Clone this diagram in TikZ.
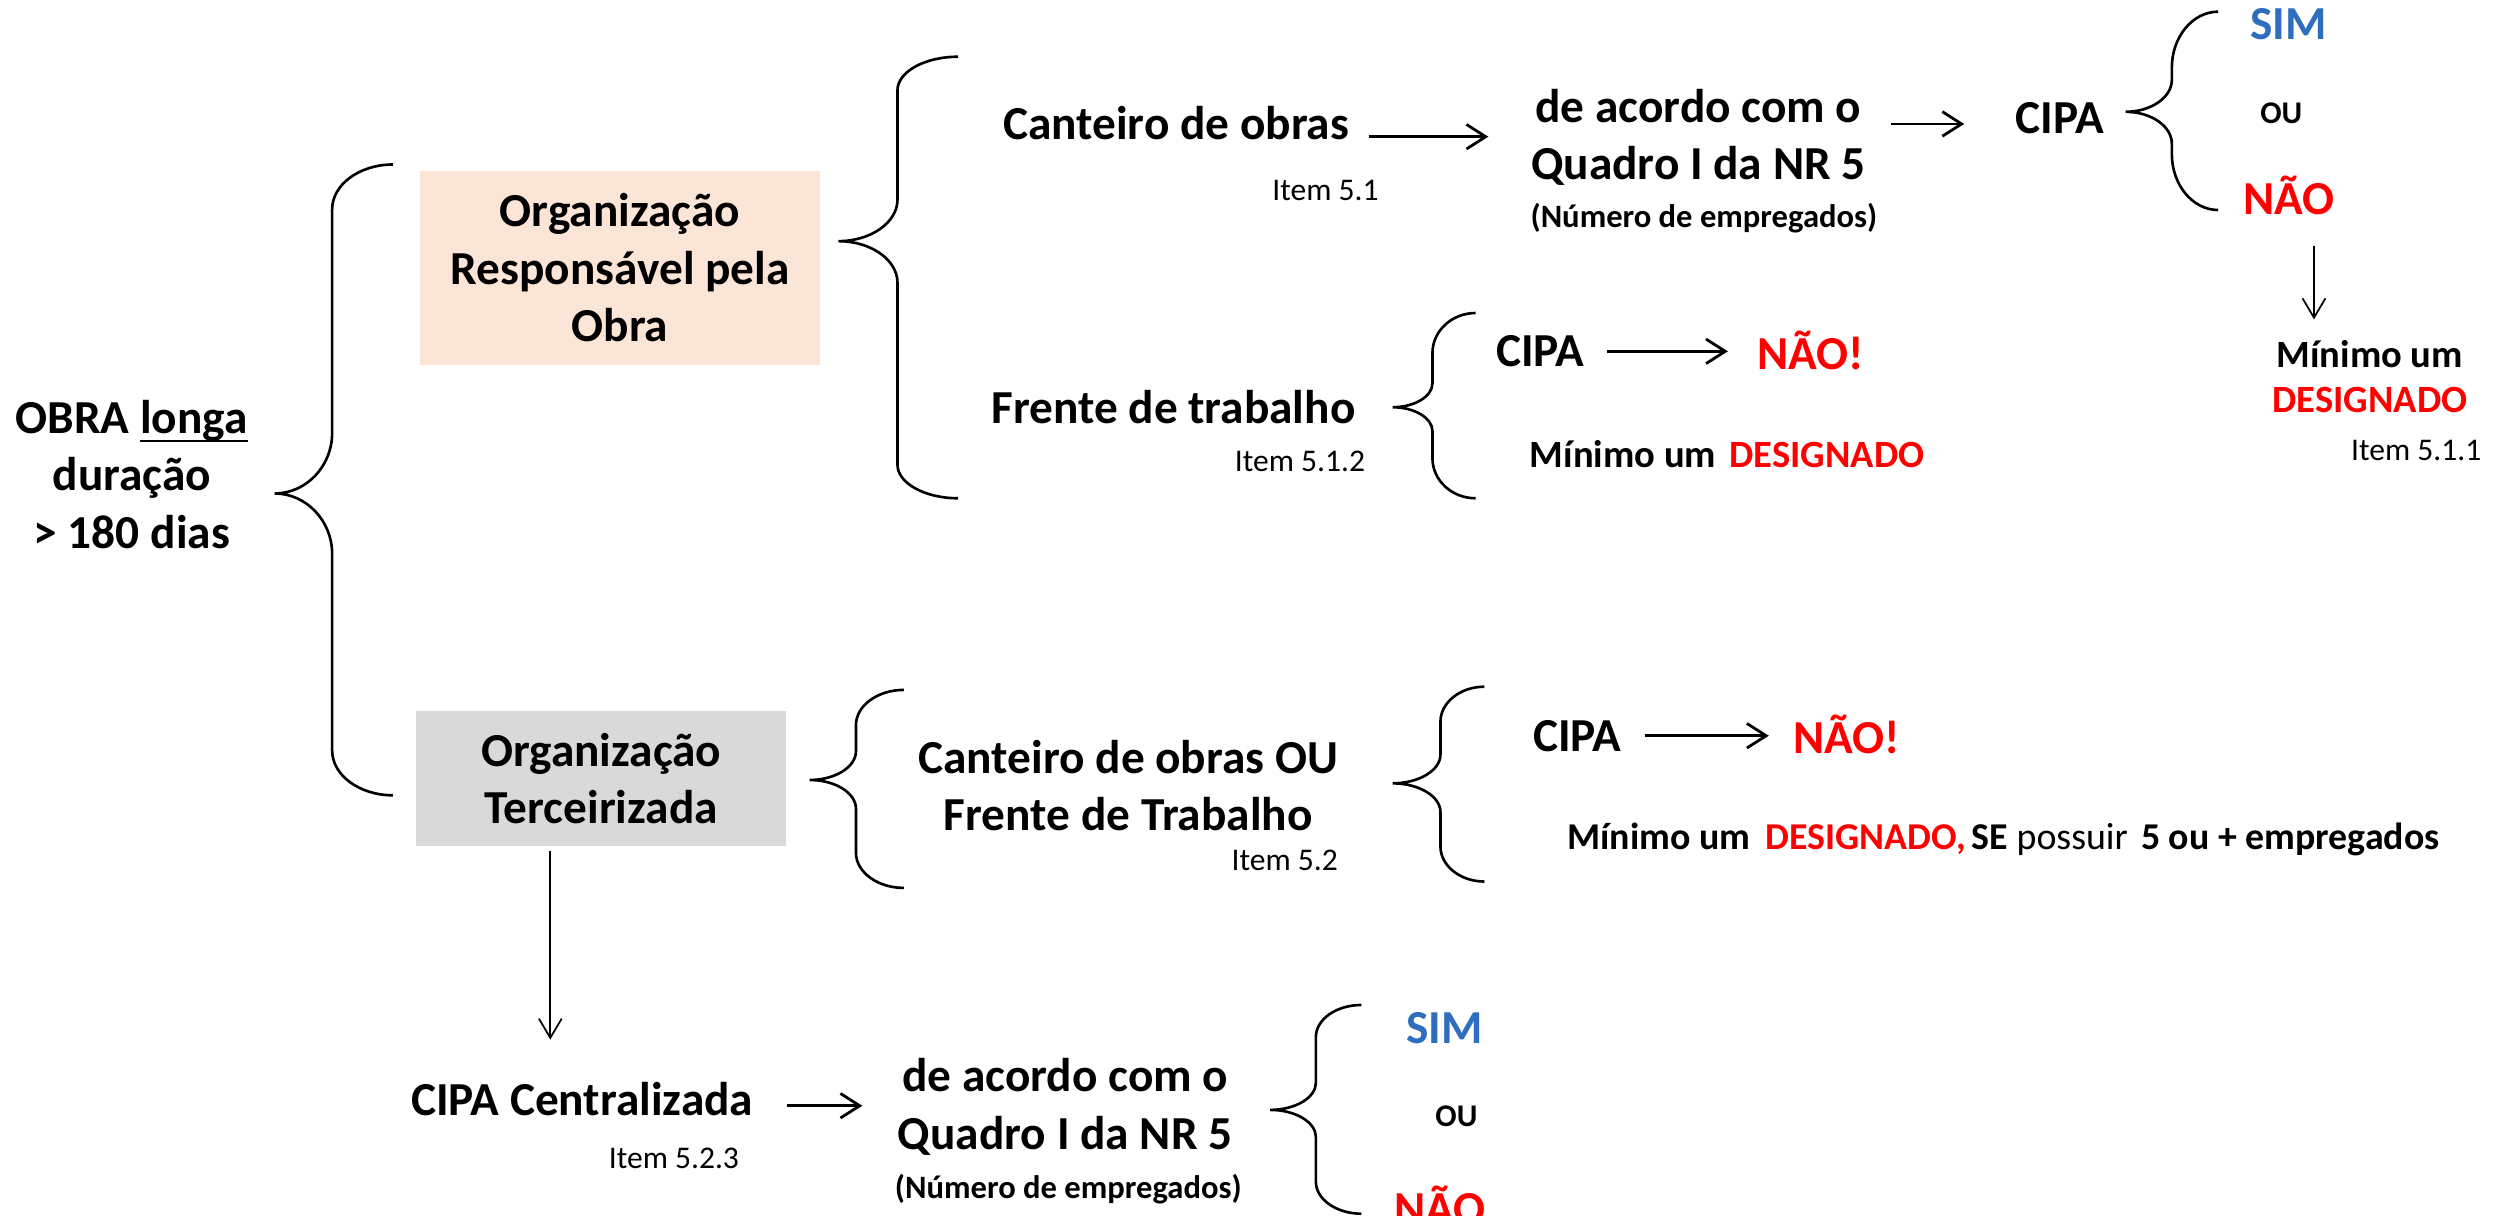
\documentclass[tikz,border=0pt]{standalone}
\usepackage{fontspec}
\setmainfont{Carlito}
\usetikzlibrary{arrows.meta}
\definecolor{peach}{HTML}{FBE5D6}
\definecolor{boxgray}{HTML}{D9D9D9}
\definecolor{simblue}{RGB}{47,110,190}
\definecolor{naored}{HTML}{FF0000}
\newcommand{\ulonga}[1]{\setbox0\hbox{#1}\rlap{\rule[-2.6pt]{\wd0}{0.8pt}}\box0}
\newcommand{\bracepath}[8]{%
 \draw[bracestyle] (#1,#4) .. controls ({#1-0.55*(#1-#2)},#4) and (#2,{#4+0.45*#7}) .. (#2,{#4+#7})
 -- (#2,{#5-#8}) .. controls (#2,{#5-0.45*#8}) and ({#3+0.55*(#2-#3)},#5) .. (#3,#5)
 .. controls ({#3+0.55*(#2-#3)},#5) and (#2,{#5+0.45*#8}) .. (#2,{#5+#8})
 -- (#2,{#6-#7}) .. controls (#2,{#6-0.45*#7}) and ({#1-0.55*(#1-#2)},#6) .. (#1,#6);}
\begin{document}
\begin{tikzpicture}[x=0.016cm,y=-0.016cm,
 every node/.style={inner sep=0pt, outer sep=0pt},
 mainf/.style={font=\fontsize{13.5}{16.4}\selectfont\bfseries, align=center},
 itemf/.style={font=\fontsize{9}{11}\selectfont, anchor=base},
 smallf/.style={font=\fontsize{9.3}{11}\selectfont\bfseries, anchor=base},
 midf/.style={font=\fontsize{11}{12.8}\selectfont\bfseries},
 oubf/.style={font=\fontsize{9}{11}\selectfont\bfseries, anchor=base},
 single/.style={mainf, anchor=base},
 bracestyle/.style={line width=0.75pt},
 harr/.style={line width=0.8pt, -{Straight Barb[length=5.5pt,width=7pt]}},
 varr/.style={line width=0.5pt, -{Straight Barb[length=5.5pt,width=6.5pt]}},
]
\useasboundingbox (0,0) rectangle (1568,761);

\node[mainf] (obra) at (82.5,297) {OBRA \ulonga{longa}\\duração\\> 180 dias};
\node[mainf, fill=peach, minimum width=4.01cm, minimum height=1.946cm] (org1) at (388.3,167.8) {Organização\\Responsável pela\\Obra};
\node[mainf, fill=boxgray, minimum width=3.71cm, minimum height=1.357cm] (org2) at (376.5,487.6) {Organização\\Terceirizada};

\node[single] (cano) at (736.5,87.5) {Canteiro de obras};
\node[itemf] (i51) at (830,125.4) {Item 5.1};
\node[mainf] (q1) at (1063.5,86) {de acordo com o\\Quadro I da NR 5};
\node[smallf] (q1n) at (1067,142.5) {(Número de empregados)};
\node[single] (cipa1) at (1290,83.5) {CIPA};
\node[single, text=simblue] (sim1) at (1433,25) {SIM};
\node[oubf] (ou1) at (1428.5,77.5) {OU};
\node[single, text=naored] (nao1) at (1433.3,134.5) {NÃO};
\node[midf, align=center] (min1) at (1484,236) {Mínimo um\\\textcolor{naored}{DESIGNADO}};
\node[itemf] (i511) at (1513,288.4) {Item 5.1.1};

\node[single] (frente) at (734.8,265.1) {Frente de trabalho};
\node[itemf] (i512) at (814,295.4) {Item 5.1.2};
\node[single] (cipa2) at (964.5,229.5) {CIPA};
\node[single, text=naored] (nao2) at (1134,231.5) {NÃO!};
\node[midf, anchor=base west] (min2) at (958,292.8) {Mínimo um\hspace{0.35em}\textcolor{naored}{DESIGNADO}};

\node[mainf] (cou) at (706.5,492) {Canteiro de obras OU\\Frente de Trabalho};
\node[itemf] (i52) at (804.5,545) {Item 5.2};
\node[single] (cipa3) at (987.7,470.8) {CIPA};
\node[single, text=naored] (nao3) at (1156.4,471.8) {NÃO!};
\node[midf, anchor=base west, font=\fontsize{10.8}{12.8}\selectfont\bfseries] (min3) at (981.6,531.8) {Mínimo um\hspace{0.4em}\textcolor{naored}{DESIGNADO,}\hspace{0.15em}SE {\mdseries possuir}\hspace{0.35em}5 ou + empregados};

\node[single] (cc) at (364.5,698.3) {CIPA Centralizada};
\node[itemf] (i523) at (422,731.7) {Item 5.2.3};
\node[mainf] (q2) at (667,693) {de acordo com o\\Quadro I da NR 5};
\node[smallf] (q2n) at (669,750.7) {(Número de empregados)};
\node[single, text=simblue] (sim2) at (904.5,653.5) {SIM};
\node[oubf] (ou2) at (912,705.4) {OU};
\node[single, text=naored] (nao4) at (901.5,767) {NÃO};

% arrows
\coordinate (a1s) at (857,85.6); \coordinate (a1e) at (932,85.6);
\coordinate (a2s) at (1184,77.6); \coordinate (a2e) at (1230,77.6);
\coordinate (a3s) at (1449,154); \coordinate (a3e) at (1449,200);
\coordinate (a4s) at (1006,220); \coordinate (a4e) at (1082,220);
\coordinate (a5s) at (1030,460.7); \coordinate (a5e) at (1107.6,460.7);
\coordinate (a6s) at (344.6,533); \coordinate (a6e) at (344.6,651);
\coordinate (a7s) at (493,692.4); \coordinate (a7e) at (540,692.4);
\draw[harr] (a1s) -- (a1e);
\draw[harr] (a2s) -- (a2e);
\draw[varr] (a3s) -- (a3e);
\draw[harr] (a4s) -- (a4e);
\draw[harr] (a5s) -- (a5e);
\draw[varr] (a6s) -- (a6e);
\draw[harr] (a7s) -- (a7e);

% braces
\bracepath{246}{208}{172}{103}{309}{498}{28}{38}
\bracepath{600}{562}{525}{35.5}{151}{312}{21}{26}
\bracepath{1389}{1360}{1331}{7.3}{70}{131.5}{35}{20}
\bracepath{924}{897}{872}{196}{255}{312}{25}{15}
\bracepath{566}{536}{507}{432}{488.4}{556}{22}{18}
\bracepath{929.5}{902}{872}{430}{490.5}{552}{22}{18}
\bracepath{852.5}{824}{795.4}{629.3}{695}{760}{20}{17}
\end{tikzpicture}
\end{document}
